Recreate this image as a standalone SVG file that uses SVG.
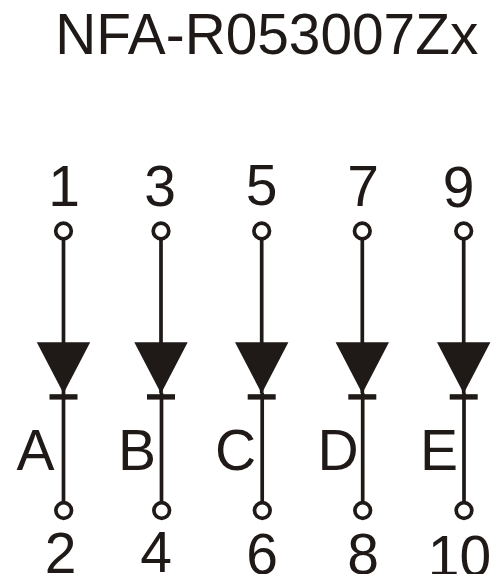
<svg xmlns="http://www.w3.org/2000/svg" width="491" height="574" viewBox="0 0 491 574">
<style>
text{font-family:"Liberation Sans",Arial,sans-serif;font-size:57px;fill:#1f1a17;text-anchor:middle}
.s{fill:none;stroke:#1f1a17;stroke-width:3.7}
.k{fill:#1f1a17}
</style>
<defs>
<g id="d">
<path class="k" d="M-26.7 342.3H26.7L0 393.5Z"/>
<rect class="k" x="-14" y="394.2" width="28" height="5.4"/>
</g>
</defs>
<rect width="491" height="574" fill="#fff"/>
<text id="title" x="266.8" y="54" style="font-size:56.8px">NFA-R053007Zx</text>
<g id="connectors">
<path class="s" d="M63.5 239V393M63.5 393V502.5"/>
<path class="s" d="M161 239V393M161.5 393V502.5"/>
<path class="s" d="M261.7 239V393M262.2 393V502.5"/>
<path class="s" d="M362.3 239V393M362.7 393V502.5"/>
<path class="s" d="M463.7 239V393M464 393V502.5"/>
</g>
<g id="diode-A"><use href="#d" x="63.5"/><circle class="s" cx="63.5" cy="231" r="7.8"/><circle class="s" cx="63.7" cy="510.5" r="7.8"/><text x="64" y="206">1</text><text x="60.5" y="572.5">2</text><text x="35.5" y="470">A</text></g>
<g id="diode-B"><use href="#d" x="161"/><circle class="s" cx="161" cy="231" r="7.8"/><circle class="s" cx="161.7" cy="510.5" r="7.8"/><text x="160" y="206">3</text><text x="156" y="572">4</text><text x="137" y="470">B</text></g>
<g id="diode-C"><use href="#d" x="261.7"/><circle class="s" cx="261.7" cy="231" r="7.8"/><circle class="s" cx="262.3" cy="510.5" r="7.8"/><text x="261.5" y="204.5">5</text><text x="262" y="574">6</text><text x="235.5" y="470">C</text></g>
<g id="diode-D"><use href="#d" x="362.3"/><circle class="s" cx="362.3" cy="231" r="7.8"/><circle class="s" cx="362.7" cy="510.5" r="7.8"/><text x="363" y="206">7</text><text x="363" y="574">8</text><text x="338" y="470">D</text></g>
<g id="diode-E"><use href="#d" x="463.7"/><circle class="s" cx="463.7" cy="231" r="7.8"/><circle class="s" cx="464" cy="510.5" r="7.8"/><text x="458.5" y="206.5">9</text><text x="459.5" y="575.5">10</text><text x="439" y="470">E</text></g>
</svg>
